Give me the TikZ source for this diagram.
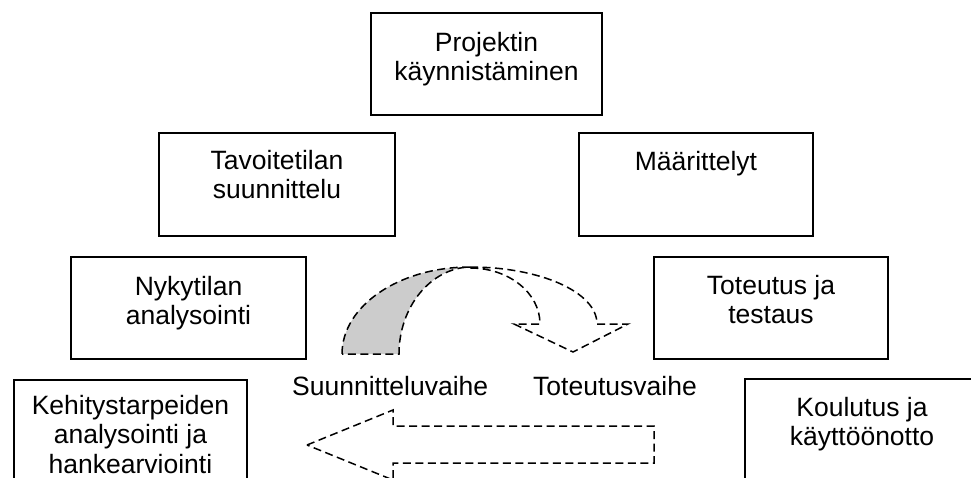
\documentclass[tikz,border=0pt]{standalone}
\usepackage{fontspec}
\setmainfont{Liberation Sans}
\tikzset{
  phasebox/.style={draw, line width=1.6pt, rectangle, inner sep=0pt,
    minimum width=234pt, minimum height=102pt},
  boxtext/.style={anchor=north, inner sep=0pt, align=center,
    font=\fontsize{26.5}{29.5}\selectfont},
  phaselabel/.style={anchor=base west, inner sep=0pt,
    font=\fontsize{26.5}{29.5}\selectfont},
  dashedge/.style={line width=1.5pt, dash pattern=on 8pt off 4.5pt, line join=miter},
}
\definecolor{bandgray}{gray}{0.8}
\begin{document}
\begin{tikzpicture}[x=1pt, y=-1pt]
  \useasboundingbox (0,0) rectangle (971,478);
  \clip (0,0) rectangle (971,478);

  % phase boxes
  \node[phasebox, minimum width=231pt] (start) at (486.5,64) {};
  \node[phasebox, minimum width=236pt, minimum height=103pt] (target) at (277,184.5) {};
  \node[phasebox, minimum height=103pt] (spec) at (696,184.5) {};
  \node[phasebox, minimum width=235pt] (current) at (188.5,308) {};
  \node[phasebox] (impl) at (771,308) {};
  \node[phasebox, minimum width=233pt] (needs) at (130.5,431) {};
  \node[phasebox] (deploy) at (862,430) {};

  % box texts
  \node[boxtext] (startT) at ([yshift=-18pt]start.north) {\strut Projektin\\käynnistäminen};
  \node[boxtext] (targetT) at ([yshift=-16pt]target.north) {\strut Tavoitetilan\\suunnittelu};
  \node[boxtext] (specT) at ([yshift=-17pt]spec.north) {\strut Määrittelyt};
  \node[boxtext] (currentT) at ([yshift=-18pt]current.north) {\strut Nykytilan\\analysointi};
  \node[boxtext] (implT) at ([yshift=-17pt]impl.north) {\strut Toteutus ja\\testaus};
  \node[boxtext] (needsT) at ([yshift=-14pt]needs.north) {\strut Kehitystarpeiden\\analysointi ja\\hankearviointi};
  \node[boxtext] (deployT) at ([yshift=-17pt]deploy.north) {\strut Koulutus ja\\käyttöönotto};

  % phase labels
  \node[phaselabel] (planL) at (292,395) {Suunnitteluvaihe};
  \node[phaselabel] (implL) at (533,395) {Toteutusvaihe};

  % curved arrow: front part with the down-pointing head
  \draw[dashedge]
    (470,267) .. controls (540,267) and (597,292) .. (597,324)
    -- (628,324) -- (573,352) -- (514,324) -- (540,324)
    .. controls (540,293) and (509,268) .. (470,268);
  % curved arrow: shaded back part
  \draw[dashedge, fill=bandgray]
    (342,354) .. controls (342,306) and (399,267) .. (470,267)
    .. controls (431,268) and (399,306.5) .. (399,354) -- cycle;

  % block arrow pointing left
  \draw[dashedge]
    (307,445) -- (393,410) -- (393,426) -- (654,426) -- (654,463)
    -- (393,463) -- (393,480) -- cycle;
\end{tikzpicture}
\end{document}
